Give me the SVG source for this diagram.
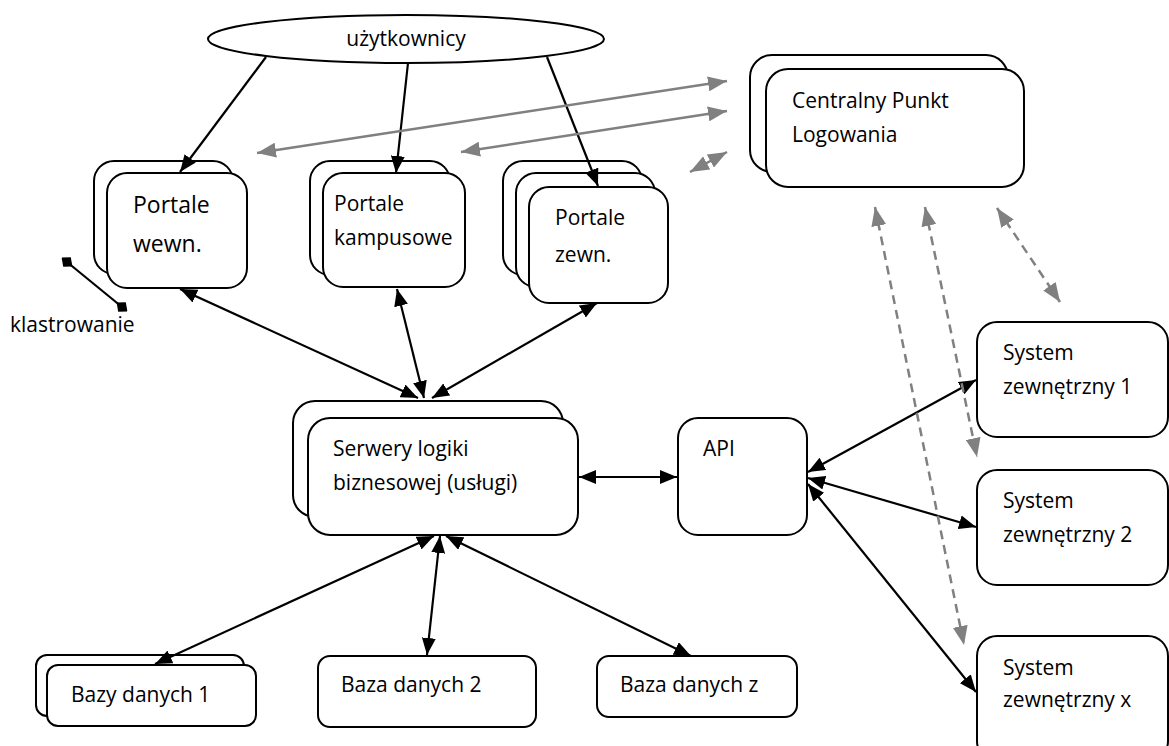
<svg xmlns="http://www.w3.org/2000/svg" width="1169" height="746" viewBox="0 0 1169 746">
<defs>
<style>
.box{fill:#fff;stroke:#000;stroke-width:2}
.t{font-family:"Open Sans","Noto Sans","Liberation Sans",sans-serif;font-size:21px;fill:#000}
.big{font-size:23px}
.blk{stroke:#000;stroke-width:2.2;fill:none;marker-start:url(#ah);marker-end:url(#ah)}
.blk1{stroke:#000;stroke-width:2.2;fill:none;marker-end:url(#ah)}
.gry2{stroke:#808080;stroke-width:2.5;fill:none;marker-start:url(#gh);marker-end:url(#gh)}
.dsh{stroke:#808080;stroke-width:2.5;fill:none;stroke-dasharray:9,6;marker-start:url(#gh);marker-end:url(#gh)}
</style>
<marker id="ah" viewBox="0 0 17 14" refX="17" refY="7" markerUnits="userSpaceOnUse" markerWidth="17" markerHeight="14" orient="auto-start-reverse"><path d="M0,0 L17,7 L0,14 z" fill="#000"/></marker>
<marker id="gh" viewBox="0 0 19 15" refX="19" refY="7.5" markerUnits="userSpaceOnUse" markerWidth="19" markerHeight="15" orient="auto-start-reverse"><path d="M0,0 L19,7.5 L0,15 z" fill="#808080"/></marker>
<marker id="dm" viewBox="0 0 14 12" refX="7" refY="6" markerUnits="userSpaceOnUse" markerWidth="14" markerHeight="12" orient="auto"><path d="M0,6 L7,0 L14,6 L7,12 z" fill="#000"/></marker>
</defs>
<rect width="1169" height="746" fill="#fff"/>

<g id="users">
<ellipse cx="406" cy="39" rx="198" ry="24" class="box"/>
<text class="t" x="406" y="46" text-anchor="middle">użytkownicy</text>
</g>

<g id="portale-wewn">
<rect x="94" y="161" width="139" height="113" rx="20" class="box"/>
<rect x="107" y="173" width="140" height="115" rx="20" class="box"/>
<text class="t big" x="133" y="213">Portale</text>
<text class="t big" x="133" y="252">wewn.</text>
</g>

<g id="portale-kampusowe">
<rect x="310" y="161" width="140" height="114" rx="20" class="box"/>
<rect x="323" y="173" width="142" height="114" rx="20" class="box"/>
<text class="t" x="334" y="211">Portale</text>
<text class="t" x="334" y="245">kampusowe</text>
</g>

<g id="portale-zewn">
<rect x="503" y="161" width="139" height="114" rx="20" class="box"/>
<rect x="516" y="173" width="139" height="114" rx="20" class="box"/>
<rect x="529" y="187" width="139" height="116" rx="20" class="box"/>
<text class="t" x="555" y="225">Portale</text>
<text class="t" x="555" y="262">zewn.</text>
</g>

<g id="cpl">
<rect x="750" y="55" width="258" height="117" rx="22" class="box"/>
<rect x="766" y="69" width="258" height="118" rx="22" class="box"/>
<text class="t" x="792" y="108">Centralny Punkt</text>
<text class="t" x="792" y="142">Logowania</text>
</g>

<g id="serwery">
<rect x="293" y="401" width="270" height="116" rx="22" class="box"/>
<rect x="308" y="418" width="270" height="117" rx="22" class="box"/>
<text class="t" x="333" y="456">Serwery logiki</text>
<text class="t" x="333" y="490">biznesowej (usługi)</text>
</g>

<g id="api">
<rect x="678" y="418" width="129" height="117" rx="20" class="box"/>
<text class="t" x="703" y="456">API</text>
</g>

<g id="system1">
<rect x="977" y="322" width="191" height="115" rx="20" class="box"/>
<text class="t" x="1003" y="360">System</text>
<text class="t" x="1003" y="394">zewnętrzny 1</text>
</g>

<g id="system2">
<rect x="977" y="470" width="191" height="115" rx="20" class="box"/>
<text class="t" x="1003" y="508">System</text>
<text class="t" x="1003" y="542">zewnętrzny 2</text>
</g>

<g id="systemx">
<rect x="977" y="636" width="191" height="125" rx="20" class="box"/>
<text class="t" x="1003" y="675">System</text>
<text class="t" x="1003" y="707">zewnętrzny x</text>
</g>

<g id="bazy1">
<rect x="36" y="655" width="208" height="61" rx="11" class="box"/>
<rect x="47" y="665" width="209" height="61" rx="11" class="box"/>
<text class="t" x="71" y="702">Bazy danych 1</text>
</g>

<g id="baza2">
<rect x="318" y="656" width="218" height="71" rx="12" class="box"/>
<text class="t" x="341" y="692">Baza danych 2</text>
</g>

<g id="bazaz">
<rect x="597" y="656" width="200" height="61" rx="12" class="box"/>
<text class="t" x="620" y="692">Baza danych z</text>
</g>

<g id="klastrowanie">
<text class="t" x="10" y="332">klastrowanie</text>
</g>

<g id="connectors">
<line x1="266" y1="57" x2="180" y2="172" class="blk1"/>
<line x1="408" y1="63" x2="396" y2="173" class="blk1"/>
<line x1="547" y1="57" x2="598" y2="186" class="blk1"/>

<line x1="180" y1="289" x2="418" y2="398" class="blk"/>
<line x1="397" y1="289" x2="424" y2="398" class="blk"/>
<line x1="597" y1="303" x2="432" y2="398" class="blk"/>

<line x1="434" y1="536" x2="155" y2="664" class="blk"/>
<line x1="440" y1="536" x2="427" y2="655" class="blk"/>
<line x1="446" y1="536" x2="691" y2="656" class="blk"/>

<line x1="579" y1="477" x2="677" y2="477" class="blk"/>

<line x1="808" y1="472" x2="976" y2="380" class="blk"/>
<line x1="808" y1="478" x2="976" y2="527" class="blk"/>
<line x1="808" y1="484" x2="976" y2="692" class="blk"/>

<line x1="257" y1="153" x2="727" y2="81" class="gry2"/>
<line x1="461" y1="152" x2="727" y2="111" class="gry2"/>
<line x1="690" y1="172" x2="727" y2="152" class="gry2"/>

<line x1="875" y1="207" x2="964" y2="645" class="dsh"/>
<line x1="925" y1="207" x2="977" y2="457" class="dsh"/>
<line x1="997" y1="208" x2="1060" y2="302" class="dsh"/>

<line x1="67" y1="262" x2="122" y2="307" stroke="#000" stroke-width="2.2" marker-start="url(#dm)" marker-end="url(#dm)"/>
</g>
</svg>
